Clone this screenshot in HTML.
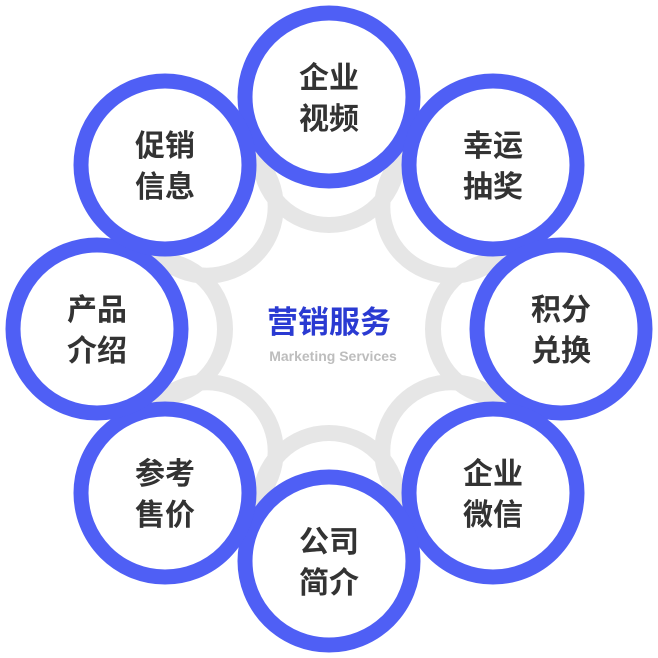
<!DOCTYPE html>
<html><head><meta charset="utf-8"><style>
html,body{margin:0;padding:0;background:#fff;width:658px;height:658px;overflow:hidden}
</style></head><body>
<svg width="658" height="658" viewBox="0 0 658 658" xmlns="http://www.w3.org/2000/svg" style="display:block">
<g fill="none" stroke="#e6e6e6" stroke-width="16">
<circle cx="329" cy="156" r="69"/><circle cx="451.3" cy="206.7" r="69"/>
<circle cx="502" cy="329" r="69"/><circle cx="451.3" cy="451.3" r="69"/>
<circle cx="329" cy="502" r="69"/><circle cx="206.7" cy="451.3" r="69"/>
<circle cx="156" cy="329" r="69"/><circle cx="206.7" cy="206.7" r="69"/>
</g>
<g fill="#fff" stroke="#4f5ff5" stroke-width="15">
<circle cx="329" cy="97" r="84"/><circle cx="493" cy="165" r="84"/>
<circle cx="561" cy="329" r="84"/><circle cx="493" cy="493" r="84"/>
<circle cx="329" cy="561" r="84"/><circle cx="165" cy="493" r="84"/>
<circle cx="97" cy="329" r="84"/><circle cx="165" cy="165" r="84"/>
</g>
<g font-family="'Liberation Sans','Noto Sans CJK SC',sans-serif" font-size="30" font-weight="bold" fill="#333" text-anchor="middle">
<text x="329" y="88">企业</text><text x="329" y="129">视频</text>
<text x="493" y="156">幸运</text><text x="493" y="197">抽奖</text>
<text x="561" y="320">积分</text><text x="561" y="361">兑换</text>
<text x="493" y="484">企业</text><text x="493" y="525">微信</text>
<text x="329" y="552">公司</text><text x="329" y="593">简介</text>
<text x="165" y="484">参考</text><text x="165" y="525">售价</text>
<text x="97" y="320">产品</text><text x="97" y="361">介绍</text>
<text x="165" y="156">促销</text><text x="165" y="197">信息</text>
</g>
<text x="329" y="333" text-anchor="middle" font-family="'Liberation Sans','Noto Sans CJK SC',sans-serif" font-size="31" font-weight="bold" fill="#2a3ad2">营销服务</text>
<text x="333" y="361" text-anchor="middle" font-family="'Liberation Sans',sans-serif" font-size="14" font-weight="bold" fill="#bdbdbd">Marketing Services</text>
</svg>
</body></html>
